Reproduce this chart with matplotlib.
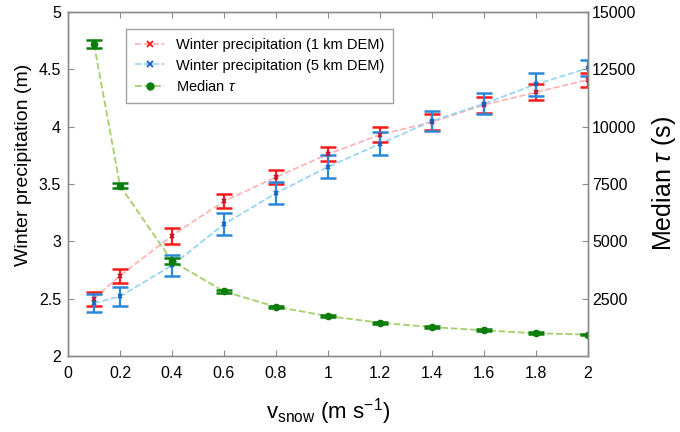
import matplotlib
matplotlib.use("Agg")
import matplotlib.pyplot as plt
from matplotlib.lines import Line2D

plt.rcParams['font.family'] = ['Liberation Sans', 'DejaVu Sans']
plt.rcParams['mathtext.fontset'] = 'custom'
plt.rcParams['mathtext.rm'] = 'Liberation Sans'
plt.rcParams['mathtext.it'] = 'Liberation Sans:italic'

v = [0.1, 0.2, 0.4, 0.6, 0.8, 1.0, 1.2, 1.4, 1.6, 1.8, 2.0]
precip_1km = [2.50, 2.70, 3.05, 3.35, 3.56, 3.76, 3.93, 4.04, 4.19, 4.30, 4.41]
err_1km = [0.06, 0.06, 0.07, 0.06, 0.06, 0.06, 0.065, 0.07, 0.07, 0.07, 0.06]
precip_5km = [2.46, 2.52, 2.79, 3.15, 3.42, 3.65, 3.85, 4.05, 4.20, 4.37, 4.51]
err_5km = [0.08, 0.085, 0.095, 0.095, 0.095, 0.1, 0.1, 0.09, 0.09, 0.1, 0.07]
tau = [13600, 7430, 4140, 2815, 2145, 1740, 1450, 1260, 1120, 990, 935]
err_tau = [185, 100, 120, 60, 50, 40, 40, 40, 40, 40, 40]

xticks = [0, 0.2, 0.4, 0.6, 0.8, 1, 1.2, 1.4, 1.6, 1.8, 2]
xticklabels = ['0', '0.2', '0.4', '0.6', '0.8', '1', '1.2', '1.4', '1.6', '1.8', '2']
yticks = [2, 2.5, 3, 3.5, 4, 4.5, 5]
yticklabels = ['2', '2.5', '3', '3.5', '4', '4.5', '5']
rticks = [2500, 5000, 7500, 10000, 12500, 15000]

red, red_l = '#ff1a1a', '#ffb0b0'
blue, blue_l, blue_m = '#2b88d8', '#90d4f4', '#1060c0'
green, green_l = '#0a7d0a', '#a3d06a'
gray = '#8a8a8a'

fig = plt.figure(figsize=(6.8, 4.32), dpi=100)
ax = fig.add_axes([0.1, 0.1759, 0.7647, 0.7963])
ax2 = ax.twinx()

ax.plot(v, precip_1km, '--', color=red_l, lw=1.2, zorder=1)
ax.plot(v, precip_5km, '--', color=blue_l, lw=1.2, zorder=1)
ax.errorbar(v, precip_1km, yerr=err_1km, fmt='none', ecolor=red, elinewidth=1.6,
            capsize=6, capthick=1.8, zorder=2)
ax.plot(v, precip_1km, 'x', color='#c01030', ms=3.5, mew=1.2, zorder=3)
ax.errorbar(v, precip_5km, yerr=err_5km, fmt='none', ecolor=blue, elinewidth=1.6,
            capsize=6, capthick=1.8, zorder=2)
ax.plot(v, precip_5km, 'x', color=blue_m, ms=3.5, mew=1.2, zorder=3)

ax2.plot(v, tau, '--', color=green_l, lw=1.3, zorder=1)
ax2.errorbar(v, tau, yerr=err_tau, fmt='o', color=green, ms=4.5, ecolor=green,
             elinewidth=1.6, capsize=6, capthick=1.8, zorder=2)

ax.set_xlim(0, 2)
ax.set_ylim(2, 5)
ax2.set_ylim(0, 15000)
ax.set_xticks(xticks)
ax.set_xticklabels(xticklabels)
ax.set_yticks(yticks)
ax.set_yticklabels(yticklabels)
ax2.set_yticks(rticks)
ax2.set_yticklabels([str(t) for t in rticks])

for a in (ax, ax2):
    for s in a.spines.values():
        s.set_color(gray)
        s.set_linewidth(1.0)
ax.tick_params(axis='both', direction='in', length=4, color=gray, labelsize=11.5,
               top=True, right=False, labelcolor='black')
ax.tick_params(axis='x', pad=7)
ax.tick_params(axis='y', pad=5)
ax2.tick_params(axis='y', direction='in', length=4, color=gray, labelsize=11.5,
                labelcolor='black', pad=3)

ax.set_ylabel('Winter precipitation (m)', fontsize=14)
ax.yaxis.set_label_coords(-0.07, 0.555)
ax2.set_ylabel(r'Median $\tau$ (s)', fontsize=18, labelpad=10)
ax.set_xlabel(r'v$_{\mathrm{snow}}$ (m s$^{-1}$)', fontsize=16, labelpad=11)

handles = [
    Line2D([], [], ls='--', color=red_l, lw=1.2, marker='x', mec=red, mew=1.3, ms=5),
    Line2D([], [], ls='--', color=blue_l, lw=1.2, marker='x', mec=blue_m, mew=1.3, ms=5),
    Line2D([], [], ls='--', color=green_l, lw=1.3, marker='o', mfc=green, mec=green, ms=5),
]
labels = ['Winter precipitation (1 km DEM)', 'Winter precipitation (5 km DEM)',
          r'Median $\tau$']
leg = ax2.legend(handles, labels, loc='upper left', bbox_to_anchor=(0.112, 0.95),
                 fontsize=10.5, frameon=True, fancybox=False, edgecolor=gray,
                 handlelength=2.0, borderpad=0.6, labelspacing=0.45, borderaxespad=0)
leg.get_frame().set_linewidth(1.0)

fig.savefig('out.png', dpi=100)
